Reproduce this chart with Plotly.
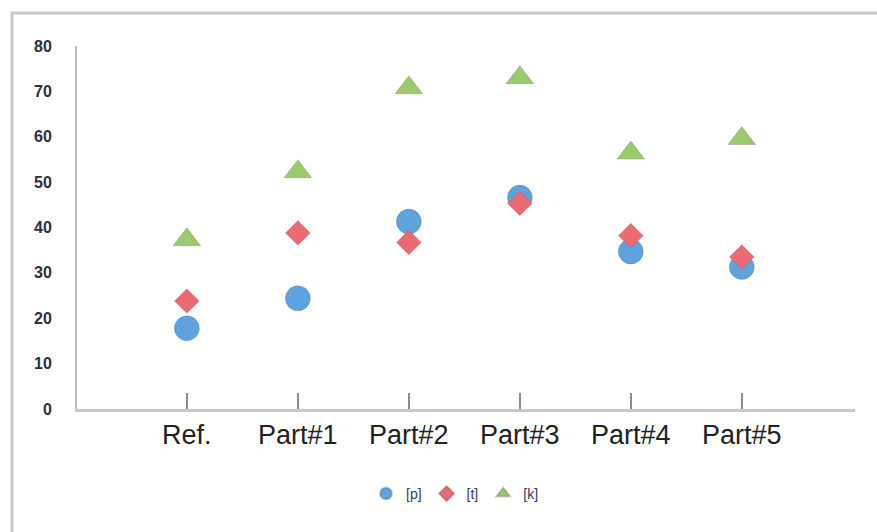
import plotly.graph_objects as go

# Categories and measured values per series
categories = ["Ref.", "Part#1", "Part#2", "Part#3", "Part#4", "Part#5"]
p_values = [17.8, 24.4, 41.3, 46.6, 34.7, 31.3]
t_values = [23.8, 38.8, 36.7, 45.3, 38.2, 33.5]
k_values = [37.3, 52.3, 70.8, 73.0, 56.4, 59.6]

y_ticks = [0, 10, 20, 30, 40, 50, 60, 70, 80]

W, H = 877, 532
L, R, T, B = 77, 22, 46, 123
pw, ph = W - L - R, H - T - B

fig = go.Figure()

series = [
    ("[p]", p_values, "circle", 25, "#5EA3DD"),
    ("[t]", t_values, "diamond", 19, "#EC6A72"),
    ("[k]", k_values, "triangle-up", 24, "#9ACA6C"),
]
for name, vals, sym, size, color in series:
    fig.add_trace(go.Scatter(
        x=categories, y=vals, mode="markers", name=name,
        marker=dict(symbol=sym, size=size, color=color,
                    line=dict(width=0.8, color="rgba(90,90,90,0.3)")),
    ))

# Outer chart frame
def px_x(v):
    return (v - L) / pw

def px_y(v):
    return (H - B - v) / ph

fig.add_shape(type="rect", xref="paper", yref="paper",
              x0=px_x(12), x1=px_x(W + 20), y0=px_y(H + 20), y1=px_y(13),
              line=dict(color="#c9c9c9", width=3), fillcolor="rgba(0,0,0,0)",
              layer="below")

fig.update_layout(
    width=W, height=H,
    margin=dict(l=L, r=R, t=T, b=B),
    paper_bgcolor="white", plot_bgcolor="white",
    font=dict(family="Liberation Sans, Arial, sans-serif", color="#333333"),
    showlegend=True,
    legend=dict(orientation="h", x=px_x(455), y=px_y(494),
                xanchor="center", yanchor="middle",
                font=dict(size=14, color="#3a3a5a"),
                itemsizing="constant", itemwidth=30),
    xaxis=dict(
        type="category", range=[-0.99, 6.02],
        showline=True, linecolor="#c8c8c8", linewidth=3,
        ticks="inside", ticklen=16, tickwidth=2, tickcolor="#8c8c8c",
        tickfont=dict(size=27, color="#222222"),
        showgrid=False, zeroline=False,
    ),
    yaxis=dict(
        range=[0, 80], tickvals=y_ticks,
        showline=True, linecolor="#bdbdbd", linewidth=2,
        ticks="", ticklabelstandoff=20,
        tickfont=dict(size=16, color="#2e2e40", weight="bold"),
        showgrid=False, zeroline=False,
    ),
)

fig.write_html("out.html")
